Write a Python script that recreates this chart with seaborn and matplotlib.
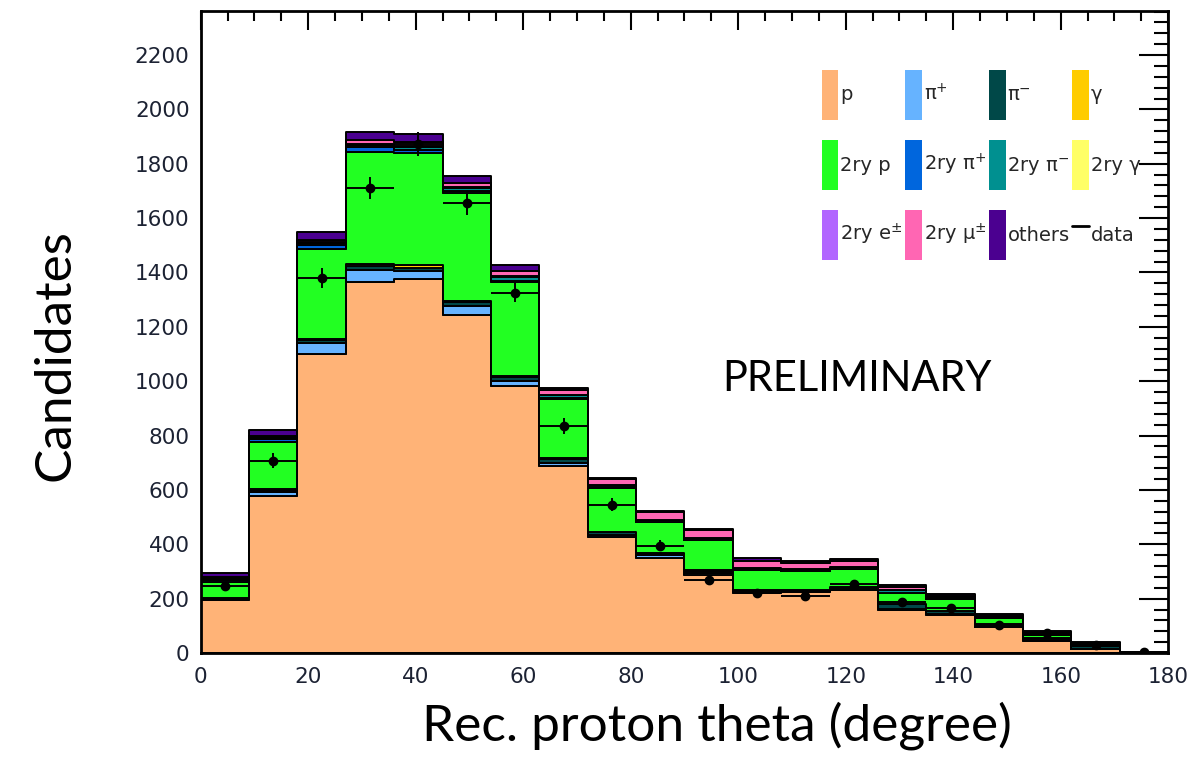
import numpy as np
import pandas as pd
import matplotlib
matplotlib.use("Agg")
import matplotlib.pyplot as plt
from matplotlib.patches import Patch
from matplotlib.lines import Line2D
from matplotlib.ticker import MultipleLocator
import seaborn as sns

# ---------------- data ----------------
bin_edges = [0, 9, 18, 27, 36, 45, 54, 63, 72, 81, 90, 99, 108, 117, 126, 135, 144, 153, 162, 171, 180]
bin_centers = [4.5, 13.5, 22.5, 31.5, 40.5, 49.5, 58.5, 67.5, 76.5, 85.5, 94.5, 103.5,
               112.5, 121.5, 130.5, 139.5, 148.5, 157.5, 166.5, 175.5]

p_vals      = [195, 578, 1100, 1365, 1375, 1243, 981, 688, 428, 350, 287, 220, 225, 232, 158, 140, 95, 45, 14, 1]
pip_vals    = [5, 15, 40, 45, 30, 33, 20, 12, 5, 10, 8, 5, 3, 4, 3, 2, 2, 1, 1, 0]
pim_vals    = [2, 8, 12, 15, 12, 15, 15, 15, 12, 8, 8, 8, 5, 8, 20, 12, 10, 10, 10, 1]
gam_vals    = [0, 1, 3, 5, 12, 5, 3, 3, 2, 1, 1, 0, 0, 0, 0, 0, 0, 0, 0, 0]
sp_vals     = [60, 175, 330, 415, 410, 397, 345, 217, 160, 112, 110, 71, 67, 65, 40, 43, 22, 10, 4, 0]
spip_vals   = [8, 10, 15, 15, 10, 8, 5, 3, 2, 2, 2, 2, 1, 1, 1, 1, 0, 0, 0, 0]
spim_vals   = [3, 4, 8, 10, 12, 10, 15, 10, 8, 5, 6, 6, 5, 5, 8, 6, 5, 5, 5, 0]
sgam_vals   = [0, 0, 0, 0, 0, 0, 0, 0, 0, 0, 0, 0, 0, 0, 0, 0, 0, 0, 0, 0]
se_vals     = [2, 2, 3, 3, 3, 3, 3, 3, 2, 2, 2, 2, 2, 2, 2, 1, 0, 0, 0, 0]
smu_vals    = [3, 5, 10, 15, 15, 15, 20, 15, 20, 28, 30, 25, 22, 20, 12, 4, 3, 2, 1, 0]
oth_vals    = [15, 22, 28, 30, 32, 25, 20, 8, 6, 3, 4, 9, 7, 8, 8, 8, 8, 7, 7, 1]

data_vals = [247, 708, 1381, 1711, 1872, 1654, 1326, 835, 546, 394, 268, 222, 208, 253, 189, 164, 102, 75, 30, 3]
data_errs = [16, 27, 37, 41, 43, 41, 36, 29, 23, 20, 16, 15, 14, 16, 14, 13, 10, 9, 5, 2]

comp_names = ["p", "pi+", "pi-", "gamma", "2ry p", "2ry pi+", "2ry pi-", "2ry gamma",
              "2ry e", "2ry mu", "others"]
comp_labels = ["p", r"π$^{+}$", r"π$^{-}$", "γ", "2ry p", r"2ry π$^{+}$",
               r"2ry π$^{-}$", "2ry γ", r"2ry e$^{\pm}$", r"2ry μ$^{\pm}$", "others"]
comp_colors = ["#FFB377", "#66B3FF", "#004848", "#FFCC00", "#22FF22", "#0066DD",
               "#009090", "#FFFF66", "#B266FF", "#FF66B3", "#4B0090"]
comp_values = [p_vals, pip_vals, pim_vals, gam_vals, sp_vals, spip_vals, spim_vals,
               sgam_vals, se_vals, smu_vals, oth_vals]

rows = []
for name, vals in zip(comp_names, comp_values):
    for c, v in zip(bin_centers, vals):
        rows.append((c, v, name))
df = pd.DataFrame(rows, columns=["theta", "count", "component"])

# ---------------- style ----------------
sns.set_theme(style="white")
plt.rcParams["font.family"] = ["DejaVu Sans"]
plt.rcParams["mathtext.fontset"] = "dejavusans"

fig = plt.figure(figsize=(11.95, 7.61), dpi=100)
ax = fig.add_axes([200.7 / 1195, (761 - 653) / 761, (1168.2 - 200.7) / 1195, (653 - 11) / 761])

palette = dict(zip(comp_names, comp_colors))
sns.histplot(data=df, x="theta", weights="count", hue="component",
             hue_order=comp_names[::-1], multiple="stack", bins=bin_edges,
             element="step", palette=palette, alpha=1, edgecolor="black",
             linewidth=1.4, legend=False, ax=ax)

ax.errorbar(bin_centers, data_vals, xerr=4.5, yerr=data_errs, fmt="o", color="black",
            ms=6, elinewidth=1.4, capsize=0, zorder=5)

ax.set_xlim(0, 180)
ax.set_ylim(0, 2362)
ax.set_xlabel("")
ax.set_ylabel("")
ax.xaxis.set_major_locator(MultipleLocator(20))
ax.xaxis.set_minor_locator(MultipleLocator(5))
ax.yaxis.set_major_locator(MultipleLocator(200))
ax.yaxis.set_minor_locator(MultipleLocator(40))
ax.set_yticks(np.arange(0, 2201, 200))

for s in ax.spines.values():
    s.set_linewidth(2.0)
    s.set_color("black")

ax.tick_params(axis="both", which="both", direction="in", top=True, right=True,
               colors="black", width=1.5, labelcolor="#1c2233", labelsize=15.5)
ax.tick_params(axis="x", which="major", length=14, pad=10)
ax.tick_params(axis="x", which="minor", length=7)
ax.tick_params(axis="y", which="major", length=21, pad=8)
ax.tick_params(axis="y", which="minor", length=10)

# legend
handles = [Patch(facecolor=c, edgecolor="none") for c in comp_colors]
handles.append(Line2D([], [], color="black", lw=2))
labels = comp_labels + ["data"]
order = [0, 4, 8, 1, 5, 9, 2, 6, 10, 3, 7, 11]
leg = ax.legend([handles[i] for i in order], [labels[i] for i in order], ncol=4,
                loc="upper left", bbox_to_anchor=(821.7 / 1195, 1 - 70 / 761),
                bbox_transform=fig.transFigure, frameon=False, fontsize=14,
                handlelength=0.86, handleheight=3.59, handletextpad=0.1,
                labelspacing=1.03, columnspacing=0.12, borderpad=0, borderaxespad=0)

ax.text(97, 965, "PRELIMINARY", fontsize=30, family="Lato", ha="left", va="baseline",
        color="black")

fig.text(55 / 1195, 1 - 355 / 761, "Candidates", rotation=90, ha="center", va="center",
         fontsize=37, family="Lato", color="black")
fig.text(717 / 1195, 1 - 726 / 761, "Rec. proton theta (degree)", ha="center", va="center",
         fontsize=37, family="Lato", color="black")

fig.savefig("out.png", dpi=100)
